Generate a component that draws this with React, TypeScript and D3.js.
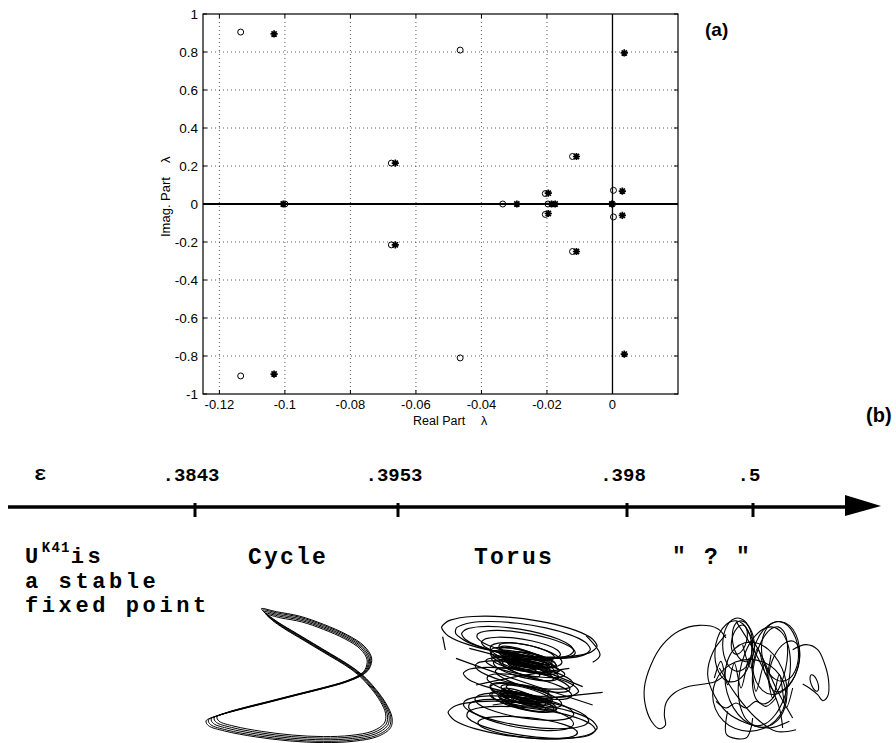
import React from 'react';
import * as d3 from 'd3';

const W = 896;
const H = 743;

// Eigenvalues of the linearised system, [real part, imaginary part]
const eigOpen: [number, number][] = [
  [-0.1135, 0.905], [-0.1135, -0.905], [-0.1, 0],
  [-0.0675, 0.215], [-0.0675, -0.215],
  [-0.0465, 0.81], [-0.0465, -0.81],
  [-0.0335, 0], [-0.0205, 0.055], [-0.0205, -0.055], [-0.0197, 0],
  [-0.0122, 0.25], [-0.0122, -0.25],
  [0.0003, 0.072], [0.0003, -0.068], [0, 0],
];
const eigStar: [number, number][] = [
  [-0.1033, 0.895], [-0.1033, -0.895], [-0.1005, 0],
  [-0.0663, 0.215], [-0.0663, -0.215],
  [0.0036, 0.795], [0.0036, -0.79],
  [-0.0292, 0], [-0.0196, 0.057], [-0.0196, -0.05],
  [-0.0186, 0], [-0.0175, 0],
  [-0.011, 0.25], [-0.011, -0.25],
  [0.003, 0.068], [0.003, -0.06], [-0.0002, 0],
];

const realTicks = [-0.12, -0.1, -0.08, -0.06, -0.04, -0.02, 0];
const imagTicks = [-1, -0.8, -0.6, -0.4, -0.2, 0, 0.2, 0.4, 0.6, 0.8, 1];

// Bifurcation values of epsilon along the schematic axis
const epsValues = [0.3843, 0.3953, 0.398, 0.5];
const epsLabels = ['.3843', '.3953', '.398', '.5'];
const epsTickX = [195, 398, 627, 753];
const regimeLabels = ['Cycle', 'Torus', '" ? "'];
const regimeLabelX = [288, 514, 712];

// Limit cycle, traced in a local 750 x 669 frame
const cyclePath: [number, number][] = [
  [218, 270], [262, 279], [330, 292], [400, 316], [470, 347], [520, 380], [542, 415], [535, 447],
  [515, 465], [470, 485], [400, 505], [320, 525], [230, 548], [150, 568], [90, 585], [55, 600],
  [62, 614], [110, 630], [200, 647], [300, 659], [400, 664], [490, 660], [560, 646], [598, 620],
  [602, 590], [585, 550], [555, 508], [515, 465], [470, 432], [420, 402], [370, 372], [320, 342],
  [270, 312], [235, 287],
];
const cycleLoops = [1.0, 0.975, 0.95, 0.925, 1.02];

// Torus section: loops [cx, cy, rx, ry, tilt] in a local 516 x 414 frame
const torusLoops: [number, number, number, number, number][] = [
  [250, 95, 235, 55, 7], [260, 105, 205, 48, 8], [245, 112, 170, 40, 9], [270, 118, 150, 33, 10],
  [255, 130, 120, 28, 9], [270, 150, 110, 30, 12], [255, 160, 95, 24, 14], [280, 165, 80, 20, 10],
  [265, 172, 105, 26, 15], [250, 178, 85, 18, 12], [285, 185, 70, 16, 10], [270, 195, 100, 24, 13],
  [262, 168, 60, 14, 8], [275, 158, 90, 18, 16], [268, 188, 120, 22, 10],
  [258, 150, 70, 16, 18], [282, 176, 55, 12, 6], [250, 190, 65, 15, 20], [290, 160, 60, 13, 14],
  [272, 140, 85, 20, 12], [260, 182, 45, 10, 10], [276, 198, 80, 17, 18],
  [266, 163, 75, 11, 13], [280, 170, 95, 14, 17], [254, 172, 50, 9, 9], [270, 180, 65, 13, 15],
  [265, 210, 150, 32, 11], [290, 225, 115, 25, 14], [255, 232, 175, 36, 9], [280, 245, 130, 28, 12],
  [255, 262, 95, 22, 12], [270, 272, 110, 26, 14], [245, 282, 85, 20, 10], [265, 290, 100, 24, 13],
  [280, 298, 75, 18, 11], [258, 278, 60, 14, 9], [272, 266, 80, 16, 16],
  [250, 270, 55, 12, 18], [285, 285, 60, 13, 8], [262, 295, 70, 15, 16], [275, 256, 65, 14, 10],
  [240, 288, 50, 11, 12], [268, 282, 42, 9, 14],
  [262, 276, 72, 10, 12], [276, 288, 88, 13, 16], [252, 282, 66, 12, 8],
  [265, 305, 150, 34, 9], [270, 322, 190, 42, 8], [260, 345, 225, 52, 6], [285, 352, 195, 42, 7],
  [275, 368, 150, 30, 6], [255, 330, 160, 38, 10],
];
const torusStrokes: [number, number][][] = [
  [[20, 95], [28, 135]],
  [[100, 130], [260, 175], [440, 245]],
  [[170, 300], [330, 280], [500, 262]],
  [[60, 160], [200, 210], [470, 300]],
  [[450, 92], [492, 150], [470, 172]],
  [[120, 240], [240, 215], [400, 190]],
];

// Irregular attractor, traced in a local 600 x 405 frame
const chaosStrokes: [number, number][][] = [
  [[270, 90], [245, 62], [190, 52], [130, 68], [80, 110], [45, 170], [25, 240], [30, 300], [50, 345], [70, 362],
    [88, 352], [85, 320], [90, 285], [115, 255], [160, 235], [205, 228], [235, 222], [262, 205]],
  [[470, 125], [510, 110], [545, 125], [565, 165], [578, 220], [575, 265], [560, 278], [545, 260], [520, 240], [500, 228]],
  [[275, 310], [272, 380], [330, 390], [345, 360], [350, 330]],
  [[235, 210], [255, 160], [275, 230], [295, 165], [315, 240], [340, 150], [360, 250], [385, 170], [410, 270],
    [430, 200], [450, 300], [470, 240]],
  [[240, 280], [270, 300], [300, 285], [330, 300], [360, 280], [390, 295], [420, 270]],
  [[270, 80], [232, 130], [215, 200], [235, 262], [272, 312], [330, 345], [400, 360], [460, 340]],
  [[330, 60], [380, 150], [420, 240], [470, 330]],
  [[300, 40], [350, 120], [390, 200], [430, 300], [440, 360]],
  [[250, 180], [300, 260], [360, 330], [420, 370], [480, 365]],
  [[320, 110], [345, 180], [365, 120], [390, 200], [405, 140]],
];
const chaosLoops: [number, number, number, number, number][] = [
  [305, 110, 45, 80, 0], [322, 100, 32, 62, -10], [292, 130, 55, 92, 5], [310, 95, 22, 45, 15],
  [420, 150, 70, 110, 8], [432, 130, 55, 90, -6], [402, 172, 48, 118, 12], [445, 175, 40, 80, 20],
  [340, 262, 110, 108, 0], [360, 230, 90, 130, -15], [385, 205, 75, 150, 10], [535, 225, 10, 26, -20],
];

const sans = "'Liberation Sans', Arial, Helvetica, sans-serif";
const mono = "'Liberation Mono', 'Courier New', Courier, monospace";

// Closed loop sampled at a coarse step, as a plotted trajectory would be
function loopPoints(cx: number, cy: number, rx: number, ry: number, rot: number, n = 15): [number, number][] {
  const r = (rot * Math.PI) / 180;
  return d3.range(n).map((i) => {
    const t = (i / n) * 2 * Math.PI;
    const ex = rx * Math.cos(t);
    const ey = ry * Math.sin(t);
    return [cx + ex * Math.cos(r) - ey * Math.sin(r), cy + ex * Math.sin(r) + ey * Math.cos(r)];
  });
}

function EigenPlot() {
  const x = d3.scaleLinear().domain([-0.125, 0.02]).range([203, 678]);
  const y = d3.scaleLinear().domain([-1, 1]).range([394, 14]);
  const fmt = (v: number) => String(Math.round(v * 100) / 100);
  const [x0, x1] = x.range();
  const [y0, y1] = y.range();
  const star = 'M-3.6,0H3.6M0,-3.6V3.6M-2.6,-2.6L2.6,2.6M-2.6,2.6L2.6,-2.6';
  return (
    <g>
      {realTicks.filter((t) => t !== 0).map((t) => (
        <line key={'gx' + t} x1={x(t)} x2={x(t)} y1={y1} y2={y0} stroke="#333" strokeWidth={0.8} strokeDasharray="1 3" />
      ))}
      {imagTicks.filter((t) => Math.abs(t) !== 1 && t !== 0).map((t) => (
        <line key={'gy' + t} x1={x0} x2={x1} y1={y(t)} y2={y(t)} stroke="#333" strokeWidth={0.8} strokeDasharray="1 3" />
      ))}
      <rect x={x0} y={y1} width={x1 - x0} height={y0 - y1} fill="none" stroke="#000" strokeWidth={1.2} />
      {realTicks.map((t) => (
        <g key={'tx' + t}>
          <line x1={x(t)} x2={x(t)} y1={y0} y2={y0 - 4} stroke="#000" />
          <line x1={x(t)} x2={x(t)} y1={y1} y2={y1 + 4} stroke="#000" />
          <text x={x(t)} y={y0 + 15} textAnchor="middle" fontFamily={sans} fontSize={13}>{fmt(t)}</text>
        </g>
      ))}
      {imagTicks.map((t) => (
        <g key={'ty' + t}>
          <line x1={x0} x2={x0 + 4} y1={y(t)} y2={y(t)} stroke="#000" />
          <line x1={x1} x2={x1 - 4} y1={y(t)} y2={y(t)} stroke="#000" />
          <text x={x0 - 5} y={y(t)} dy="0.35em" textAnchor="end" fontFamily={sans} fontSize={13.5}>{fmt(t)}</text>
        </g>
      ))}
      <line x1={x0} x2={x1} y1={y(0)} y2={y(0)} stroke="#000" strokeWidth={2} />
      <line x1={x(0)} x2={x(0)} y1={y1} y2={y0} stroke="#000" strokeWidth={1.3} />
      {eigOpen.map(([re, im], i) => (
        <circle key={'o' + i} cx={x(re)} cy={y(im)} r={3} fill="none" stroke="#000" strokeWidth={1} />
      ))}
      {eigStar.map(([re, im], i) => (
        <path key={'s' + i} d={star} transform={`translate(${x(re)},${y(im)})`} stroke="#000" strokeWidth={1.7} fill="none" />
      ))}
      <text x={413} y={425} fontFamily={sans} fontSize={12.5}>
        Real Part<tspan dx={16}>λ</tspan>
      </text>
      <text transform="translate(170,237) rotate(-90)" fontFamily={sans} fontSize={13}>
        Imag. Part<tspan dx={14}>λ</tspan>
      </text>
      <text x={705} y={36} fontFamily={sans} fontSize={19} fontWeight="bold">(a)</text>
    </g>
  );
}

function EpsilonAxis() {
  const e = d3.scaleLinear().domain(epsValues).range(epsTickX);
  const yAxis = 507;
  return (
    <g>
      <line x1={8} x2={850} y1={yAxis} y2={yAxis} stroke="#000" strokeWidth={3.5} />
      <path d={`M845,${yAxis - 12}L881,${yAxis - 1}L845,${yAxis + 9}Z`} fill="#000" />
      {epsValues.map((v, i) => (
        <g key={v}>
          <line x1={e(v)} x2={e(v)} y1={yAxis - 4} y2={yAxis + 10} stroke="#000" strokeWidth={3} />
          <text x={e(v) - 4} y={481} textAnchor="middle" fontFamily={mono} fontWeight="bold" fontSize={19}>{epsLabels[i]}</text>
        </g>
      ))}
      <text x={34} y={480} fontFamily={mono} fontSize={21} fontWeight="bold">ε</text>
      <text x={866} y={422} fontFamily={sans} fontSize={20} fontWeight="bold">(b)</text>
      {regimeLabels.map((s, i) => (
        <text key={s} x={regimeLabelX[i]} y={564} textAnchor="middle" fontFamily={mono} fontWeight="bold" fontSize={23}
          letterSpacing={2.2} style={{ whiteSpace: 'pre' }}>{s}</text>
      ))}
      <g fontFamily={mono} fontWeight="bold" fontSize={22} letterSpacing={3.6}>
        <text x={25} y={563}>U<tspan dy={-11} fontSize={14} letterSpacing={1.2}>K41</tspan><tspan dx={0} dy={11}>is</tspan></text>
        <text x={25} y={588}>a stable</text>
        <text x={25} y={612}>fixed point</text>
      </g>
    </g>
  );
}

function CycleFigure() {
  const sx = d3.scaleLinear().domain([0, 750]).range([190, 440]);
  const sy = d3.scaleLinear().domain([0, 669]).range([520, 743]);
  const cx = 400;
  const cy = 475;
  const line = d3.line<[number, number]>().x((d) => sx(d[0])).y((d) => sy(d[1])).curve(d3.curveCatmullRomClosed);
  return (
    <g fill="none" stroke="#000" strokeWidth={1}>
      {cycleLoops.map((f, i) => (
        <path key={i} d={line(cyclePath.map(([px, py]) => [cx + (px - cx) * f, cy + (py - cy) * f] as [number, number])) || ''} />
      ))}
    </g>
  );
}

function TorusFigure() {
  const sx = d3.scaleLinear().domain([0, 516]).range([436, 608]);
  const sy = d3.scaleLinear().domain([0, 414]).range([605, 743]);
  const line = d3.line<[number, number]>().x((d) => sx(d[0])).y((d) => sy(d[1])).curve(d3.curveCatmullRom);
  const loop = d3.line<[number, number]>().x((d) => sx(d[0])).y((d) => sy(d[1])).curve(d3.curveCardinalClosed.tension(0.3));
  return (
    <g fill="none" stroke="#000" strokeWidth={1.2}>
      {torusLoops.map(([cx, cy, rx, ry, rot], i) => (
        <path key={i} d={loop(loopPoints(cx, cy, rx, ry, rot, 14 + (i % 4))) || ''} />
      ))}
      {torusStrokes.map((s, i) => <path key={'t' + i} d={line(s) || ''} />)}
    </g>
  );
}

function ChaosFigure() {
  const sx = d3.scaleLinear().domain([0, 600]).range([636, 836]);
  const sy = d3.scaleLinear().domain([0, 405]).range([608, 743]);
  const line = d3.line<[number, number]>().x((d) => sx(d[0])).y((d) => sy(d[1])).curve(d3.curveCatmullRom);
  const loop = d3.line<[number, number]>().x((d) => sx(d[0])).y((d) => sy(d[1])).curve(d3.curveCatmullRomClosed);
  return (
    <g fill="none" stroke="#000" strokeWidth={1.1}>
      {chaosStrokes.map((s, i) => <path key={i} d={line(s) || ''} />)}
      {chaosLoops.map(([cx, cy, rx, ry, rot], i) => (
        <path key={'l' + i} d={loop(loopPoints(cx, cy, rx, ry, rot, 16)) || ''} />
      ))}
    </g>
  );
}

export default function App() {
  return (
    <svg width={W} height={H} viewBox={`0 0 ${W} ${H}`}
      style={{ position: 'absolute', left: 0, top: 0, background: '#fff' }}>
      <rect width={W} height={H} fill="#fff" />
      <EigenPlot />
      <EpsilonAxis />
      <CycleFigure />
      <TorusFigure />
      <ChaosFigure />
    </svg>
  );
}
